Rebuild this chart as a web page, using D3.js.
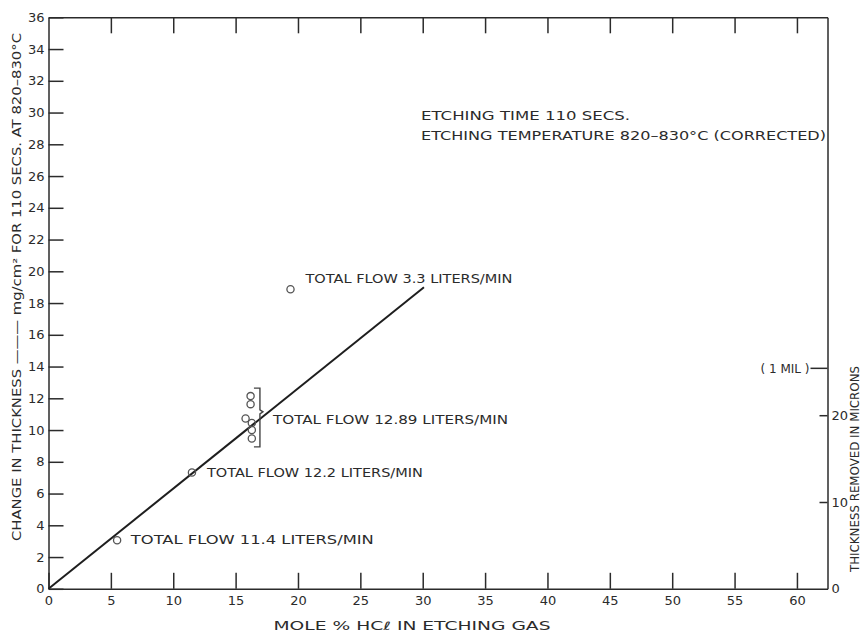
<!DOCTYPE html>
<html>
<head>
<meta charset="utf-8">
<script src="https://cdn.jsdelivr.net/npm/d3@7"></script>
<style>
  body { margin: 0; background: #fff; }
  svg { font-family: "DejaVu Sans", sans-serif; }
  .axis path, .axis line { stroke: #2b2b2b; stroke-width: 1.5; }
  .axis text { fill: #2b2b2b; font-size: 13px; font-family: "DejaVu Sans", sans-serif; }
  .lbl { fill: #2b2b2b; font-size: 11.5px; }
</style>
</head>
<body>
<div id="chart"></div>
<script>
// measured points: mole % HCl vs change in thickness (mg/cm2)
var pointX = [5.5, 11.5, 15.8, 16.3, 16.3, 16.3, 16.2, 16.2, 19.4];
var pointY = [3.06, 7.33, 10.73, 10.45, 10.0, 9.47, 11.63, 12.14, 18.87];

// fitted line
var lineX = [0, 30.1];
var lineY = [0, 19.0];

// flow labels, anchored in data units
var flowText = ["TOTAL FLOW 11.4 LITERS/MIN", "TOTAL FLOW 12.2 LITERS/MIN",
                "TOTAL FLOW 12.89 LITERS/MIN", "TOTAL FLOW 3.3 LITERS/MIN"];
var flowX = [6.6, 12.7, 18.0, 20.6];
var flowY = [3.06, 7.33, 10.67, 19.55];
var flowLen = [243, 216, 235, 207];

// bracket around the 12.89 l/min group
var bracketX = 16.95;
var bracketY = [12.64, 11.15, 8.94];

var xTicks = [0, 5, 10, 15, 20, 25, 30, 35, 40, 45, 50, 55, 60];
var yTicks = d3.range(0, 37, 2);
var micronTicks = [0, 10, 20];
var milMicrons = 25.4;
var micronsPerMg = 1.829;

var width = 868, height = 632;
var margin = { top: 17.3, right: 40.5, bottom: 43.2, left: 48.5 };

var svg = d3.select("#chart").append("svg")
    .attr("width", width)
    .attr("height", height);

var x = d3.scaleLinear().domain([0, 62.45]).range([margin.left, width - margin.right]);
var y = d3.scaleLinear().domain([0, 36]).range([height - margin.bottom, margin.top]);
var yR = d3.scaleLinear().domain([0, 36 * micronsPerMg]).range(y.range());

svg.append("g").attr("class", "axis")
    .attr("transform", "translate(0," + y(0) + ")")
    .call(d3.axisBottom(x).tickValues(xTicks).tickSizeInner(-16).tickSizeOuter(0).tickPadding(7));

svg.append("g").attr("class", "axis")
    .attr("transform", "translate(0," + y(36) + ")")
    .call(d3.axisTop(x).tickValues(xTicks.slice(1)).tickSizeInner(-16).tickSizeOuter(0).tickFormat(""));

svg.append("g").attr("class", "axis")
    .attr("transform", "translate(" + x(0) + ",0)")
    .call(d3.axisLeft(y).tickValues(yTicks).tickSizeInner(-15).tickSizeOuter(0).tickPadding(4));

var right = svg.append("g").attr("class", "axis")
    .attr("transform", "translate(" + x(62.45) + ",0)")
    .call(d3.axisRight(yR).tickValues(micronTicks).tickSizeInner(-8).tickSizeOuter(0).tickPadding(4));
right.selectAll(".tick line").filter(function(d) { return d === 0; }).remove();

// 1 mil mark
right.append("line")
    .attr("x1", -17).attr("x2", 0)
    .attr("y1", yR(milMicrons)).attr("y2", yR(milMicrons))
    .attr("stroke", "#2b2b2b").attr("stroke-width", 1.5);
right.append("text")
    .attr("x", -18).attr("y", yR(milMicrons)).attr("dy", "0.35em")
    .attr("text-anchor", "end").style("font-size", "12px")
    .attr("textLength", 49).attr("lengthAdjust", "spacingAndGlyphs")
    .text("( 1 MIL )");

// fitted line
svg.append("line")
    .attr("x1", x(lineX[0])).attr("y1", y(lineY[0]))
    .attr("x2", x(lineX[1])).attr("y2", y(lineY[1]))
    .attr("stroke", "#1e1e1e").attr("stroke-width", 2);

// points
svg.selectAll("circle.pt")
    .data(pointX.map(function(d, i) { return [d, pointY[i]]; }))
    .enter().append("circle")
    .attr("class", "pt")
    .attr("cx", function(d) { return x(d[0]); })
    .attr("cy", function(d) { return y(d[1]); })
    .attr("r", 3.6)
    .attr("fill", "none")
    .attr("stroke", "#555")
    .attr("stroke-width", 1.3);

// bracket
var bx = x(bracketX);
svg.append("path")
    .attr("d", "M" + (bx - 6) + "," + y(bracketY[0]) + "H" + bx +
               "V" + (y(bracketY[1]) - 2) + "l3,2l-3,2" +
               "V" + y(bracketY[2]) + "H" + (bx - 6))
    .attr("fill", "none").attr("stroke", "#444").attr("stroke-width", 1.4);

// flow labels
svg.selectAll("text.lbl")
    .data(flowText)
    .enter().append("text")
    .attr("class", "lbl")
    .attr("x", function(d, i) { return x(flowX[i]); })
    .attr("y", function(d, i) { return y(flowY[i]); })
    .attr("dy", "0.36em")
    .attr("textLength", function(d, i) { return flowLen[i]; })
    .attr("lengthAdjust", "spacingAndGlyphs")
    .text(function(d) { return d; });

// notes
svg.append("text").attr("class", "lbl")
    .attr("x", 421).attr("y", 119.5)
    .attr("textLength", 209).attr("lengthAdjust", "spacingAndGlyphs")
    .text("ETCHING TIME 110 SECS.");
svg.append("text").attr("class", "lbl")
    .attr("x", 421).attr("y", 139.5)
    .attr("textLength", 405).attr("lengthAdjust", "spacingAndGlyphs")
    .text("ETCHING TEMPERATURE 820\u2013830\u00b0C (CORRECTED)");

// axis titles
svg.append("text").attr("class", "lbl")
    .attr("x", 412).attr("y", 629.5)
    .attr("text-anchor", "middle")
    .attr("textLength", 277).attr("lengthAdjust", "spacingAndGlyphs")
    .text("MOLE % HC\u2113 IN ETCHING GAS");

svg.append("text").attr("class", "lbl")
    .attr("transform", "translate(21,287) rotate(-90)")
    .attr("text-anchor", "middle")
    .attr("textLength", 508).attr("lengthAdjust", "spacingAndGlyphs")
    .text("CHANGE IN THICKNESS \u2014\u2014\u2014 mg/cm\u00b2 FOR 110 SECS. AT 820\u2013830\u00b0C");

svg.append("text").attr("class", "lbl")
    .attr("transform", "translate(859,469) rotate(-90)")
    .attr("text-anchor", "middle")
    .attr("textLength", 206).attr("lengthAdjust", "spacingAndGlyphs")
    .text("THICKNESS  REMOVED IN MICRONS");
</script>
</body>
</html>
